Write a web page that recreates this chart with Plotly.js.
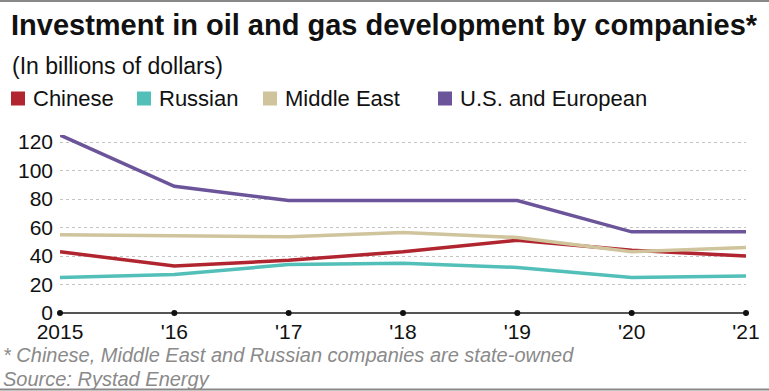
<!DOCTYPE html>
<html>
<head>
<meta charset="utf-8">
<script src="https://cdn.plot.ly/plotly-3.0.1.min.js"></script>
<style>html,body{margin:0;padding:0;background:#fff;}#chart{width:769px;height:391px;}</style>
</head>
<body>
<div id="chart"></div>
<script>
const years = [2015, 2016, 2017, 2018, 2019, 2020, 2021];
const yearLabels = ["2015", "'16", "'17", "'18", "'19", "'20", "'21"];
const chinese = [43, 33, 37, 43, 51, 44, 40];
const russian = [25, 27, 34, 35, 32, 25, 26];
const middleEast = [55, 54, 53.5, 56.5, 53, 43, 46];
const usEuropean = [125, 89, 79, 79, 79, 57, 57];
const seriesNames = ["Chinese", "Russian", "Middle East", "U.S. and European"];
const seriesColors = ["#b0252f", "#52bfb8", "#cfc49c", "#6b5499"];
const yTicks = [0, 20, 40, 60, 80, 100, 120];

const W = 769, H = 391;
const L = 60, R = 23, T = 135, B = 78;
const pw = W - L - R, ph = H - T - B;
const px = x => (x - L) / pw;
const py = y => (H - B - y) / ph;

const font = "Liberation Sans, Arial, Helvetica, sans-serif";

function line(name, y, color) {
  return {
    x: years, y: y, type: "scatter", mode: "lines", name: name,
    line: {color: color, width: 3.5}, cliponaxis: false, showlegend: false,
    hoverinfo: "skip"
  };
}

const data = [
  line(seriesNames[1], russian, seriesColors[1]),
  line(seriesNames[0], chinese, seriesColors[0]),
  line(seriesNames[2], middleEast, seriesColors[2]),
  line(seriesNames[3], usEuropean, seriesColors[3]),
  {
    x: years, y: years.map(() => 0), type: "scatter", mode: "markers",
    marker: {color: "#111", size: 6}, cliponaxis: false, showlegend: false,
    hoverinfo: "skip"
  }
];

const legendSwatchX = [11, 137, 263, 438];
const legendTextX = [31, 157, 283, 458];
const annotations = [];
const shapes = [];
seriesNames.forEach((n, i) => {
  shapes.push({
    type: "rect", xref: "paper", yref: "paper",
    x0: px(legendSwatchX[i]), x1: px(legendSwatchX[i] + 14),
    y0: py(91.5), y1: py(105.5),
    fillcolor: seriesColors[i], line: {width: 0}
  });
  annotations.push({
    text: n, xref: "paper", yref: "paper", x: px(legendTextX[i]), y: py(98.5),
    xanchor: "left", yanchor: "middle", showarrow: false,
    font: {family: font, size: 22, color: "#111"}
  });
});
annotations.push({
  text: "(In billions of dollars)", xref: "paper", yref: "paper",
  x: px(10), y: py(65.5), xanchor: "left", yanchor: "middle", showarrow: false,
  font: {family: font, size: 23, color: "#111"}
});
annotations.push({
  text: "<i>* Chinese, Middle East and Russian companies are state-owned</i>",
  xref: "paper", yref: "paper", x: px(1), y: py(355),
  xanchor: "left", yanchor: "middle", showarrow: false,
  font: {family: font, size: 20, color: "#8a8a8a"}
});
annotations.push({
  text: "<i>Source: Rystad Energy</i>",
  xref: "paper", yref: "paper", x: px(1), y: py(379),
  xanchor: "left", yanchor: "middle", showarrow: false,
  font: {family: font, size: 20, color: "#8a8a8a"}
});
shapes.push({type: "line", xref: "paper", yref: "paper", x0: px(0), x1: px(W), y0: py(1), y1: py(1), line: {color: "#888", width: 2}});
shapes.push({type: "line", xref: "paper", yref: "paper", x0: px(0), x1: px(W), y0: py(389.5), y1: py(389.5), line: {color: "#888", width: 2}});

const layout = {
  width: W, height: H,
  margin: {l: L, r: R, t: T, b: B, pad: 0},
  paper_bgcolor: "#fff", plot_bgcolor: "#fff",
  showlegend: false,
  title: {
    text: "<b>Investment in oil and gas development by companies*</b>",
    xref: "container", yref: "container", x: 11 / W, xanchor: "left",
    y: 1 - 25 / H, yanchor: "middle",
    font: {family: font, size: 29, color: "#111"}
  },
  xaxis: {
    type: "linear", range: [2015, 2021], tickvals: years, ticktext: yearLabels,
    showgrid: false, zeroline: false, showline: false, ticks: "",
    ticklabelstandoff: 4,
    tickfont: {family: font, size: 21, color: "#111"}, fixedrange: true
  },
  yaxis: {
    range: [0, 125], tickvals: yTicks, ticks: "",
    showgrid: true, gridcolor: "#c4c4c4", griddash: "dot", gridwidth: 1,
    zeroline: true, zerolinecolor: "#555", zerolinewidth: 2,
    showline: false, ticklabelstandoff: 6,
    tickfont: {family: font, size: 21, color: "#111"}, fixedrange: true
  },
  annotations: annotations,
  shapes: shapes
};

Plotly.newPlot("chart", data, layout, {staticPlot: true, displayModeBar: false});
</script>
</body>
</html>
